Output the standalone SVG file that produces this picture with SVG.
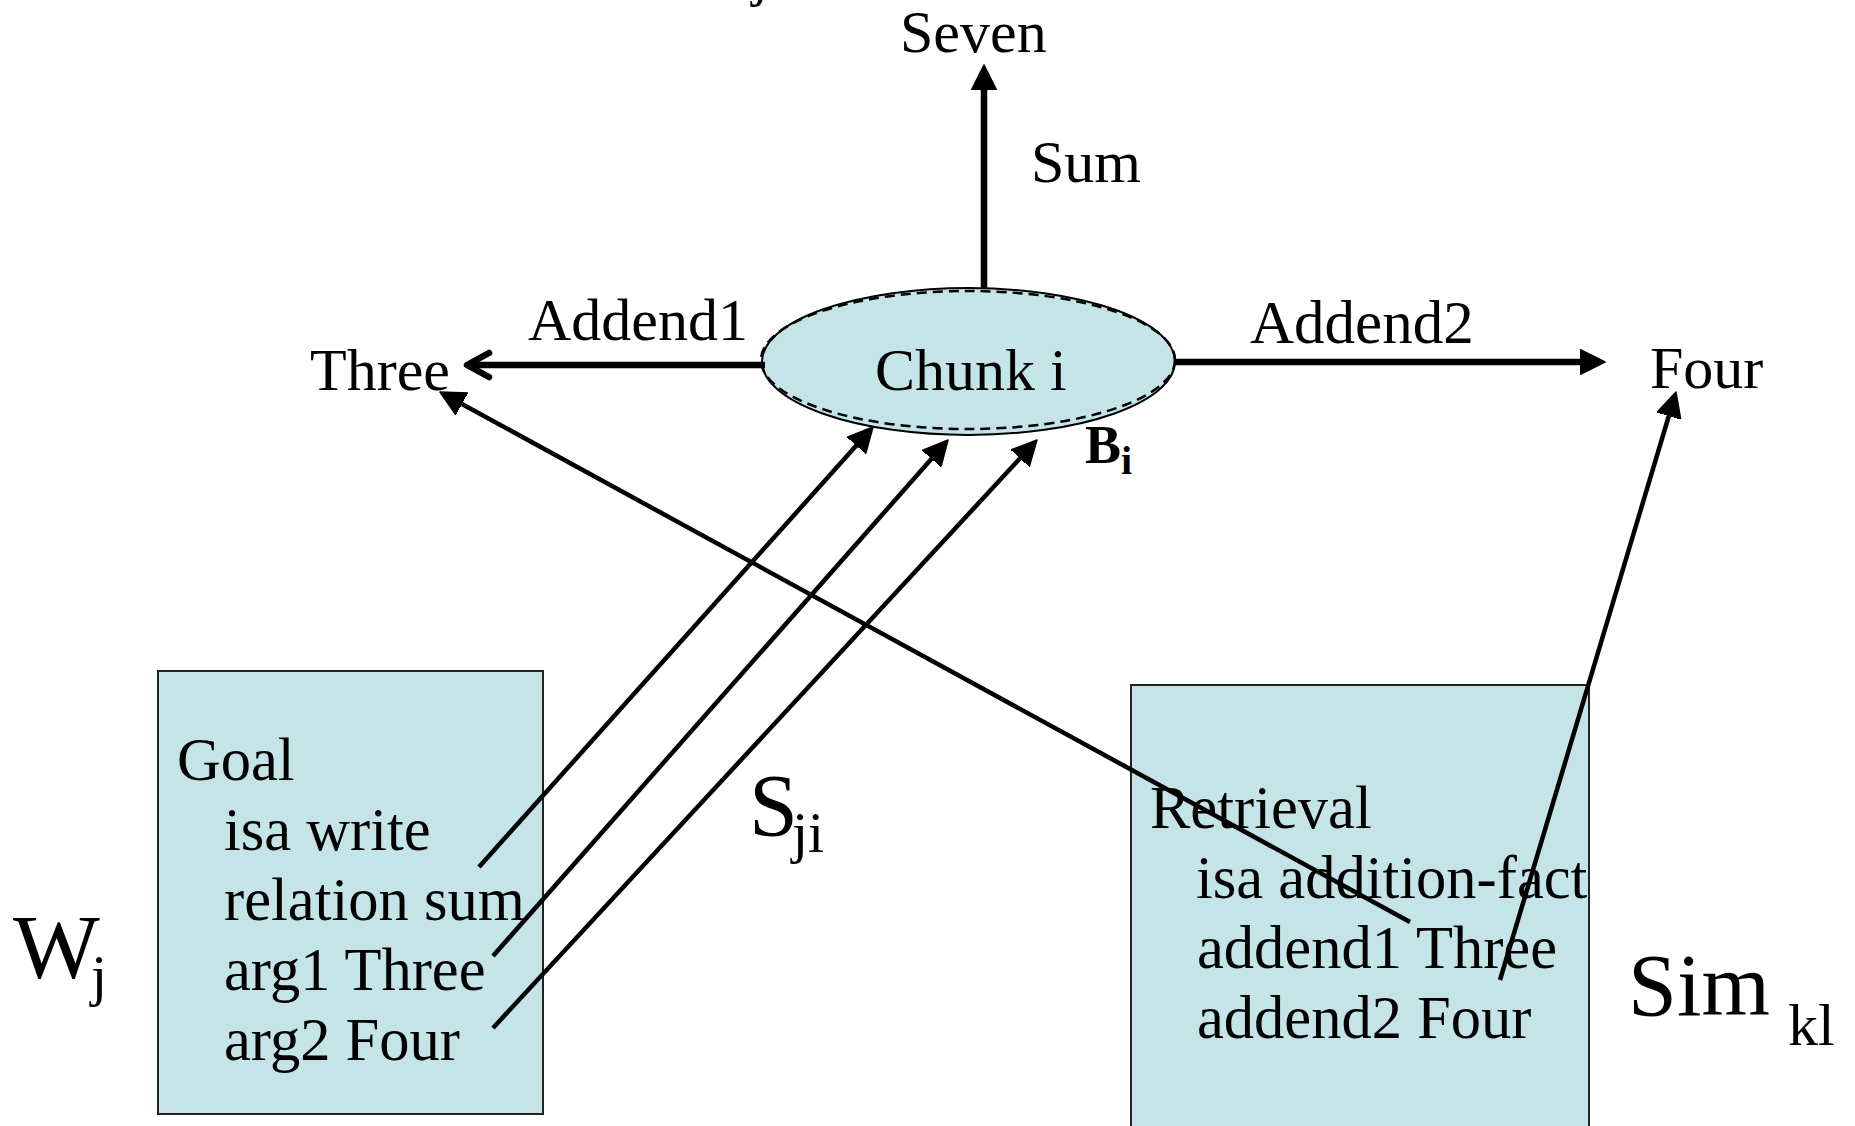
<svg xmlns="http://www.w3.org/2000/svg" width="1855" height="1126" viewBox="0 0 1855 1126">
  <style>
    text { font-family: "Liberation Serif", "Times New Roman", serif; fill: #000; }
    .lbl { font-size: 60px; }
    .item { font-size: 60.5px; }
    .big { font-size: 88px; }
    .sub { font-size: 58px; }
    .panel { fill: #C5E4E8; stroke: #222; stroke-width: 2; }
    .thick { stroke: #000; stroke-width: 6.5; fill: none; }
    .thin { stroke: #000; stroke-width: 4.5; fill: none; }
  </style>
  <defs>
    <marker id="head" viewBox="0 -13 26 26" markerWidth="26" markerHeight="26" refX="0" refY="0" orient="auto" markerUnits="userSpaceOnUse">
      <path d="M0,-12.5 L25,0 L0,12.5 Z" fill="#000" stroke="#000" stroke-width="1.5" stroke-linejoin="round"/>
    </marker>
    <marker id="chevron" viewBox="-28 -18 36 36" markerWidth="36" markerHeight="36" refX="0" refY="0" orient="auto" markerUnits="userSpaceOnUse">
      <path d="M-22,-12 L0,0 L-22,12" fill="none" stroke="#000" stroke-width="6.5" stroke-linecap="round" stroke-linejoin="round"/>
    </marker>
  </defs>

  <rect width="1855" height="1126" fill="#fff"/>

  <!-- chunk node -->
  <g id="chunk">
    <ellipse cx="968.5" cy="361.5" rx="206.5" ry="73.5" fill="#C5E4E8" stroke="#000" stroke-width="2"/>
    <ellipse cx="968" cy="360" rx="207" ry="69" fill="none" stroke="#000" stroke-width="2.5" stroke-dasharray="10 6"/>
    <text class="lbl" x="875" y="390">Chunk i</text>
  </g>

  <g id="seven"><text class="lbl" x="900" y="52">Seven</text></g>
  <g id="three"><text class="lbl" x="310" y="390">Three</text></g>
  <g id="four"><text class="lbl" x="1650" y="388">Four</text></g>

  <!-- goal buffer -->
  <g id="goal">
    <rect class="panel" x="158" y="671" width="385" height="443"/>
    <text class="item" x="177" y="780">Goal</text>
    <text class="item" x="224" y="850">isa write</text>
    <text class="item" x="224" y="920">relation sum</text>
    <text class="item" x="224" y="990">arg1 Three</text>
    <text class="item" x="224" y="1060">arg2 Four</text>
  </g>

  <!-- retrieval buffer -->
  <g id="retrieval">
    <rect class="panel" x="1131" y="685" width="458" height="460"/>
    <text class="item" x="1150" y="828">Retrieval</text>
    <text class="item" x="1196" y="898">isa addition-fact</text>
    <text class="item" x="1197" y="968">addend1 Three</text>
    <text class="item" x="1197" y="1038">addend2 Four</text>
  </g>

  <!-- parameter symbols -->
  <g id="wj">
    <text class="big" x="13" y="978" style="font-size:92px">W</text>
    <text class="sub" x="91" y="995">j</text>
  </g>
  <g id="sji">
    <text class="big" x="749" y="835">S</text>
    <text class="sub" x="792" y="852">ji</text>
  </g>
  <g id="simkl">
    <text class="big" x="1628" y="1015">Sim</text>
    <text class="sub" x="1788" y="1045" style="font-size:60px">kl</text>
  </g>
  <g id="bi">
    <text x="1085" y="463" style="font-size:54px;font-weight:bold">B</text>
    <text x="1121" y="474" style="font-size:40px;font-weight:bold">i</text>
  </g>
  <g id="wj-top"><text class="sub" x="752" y="-5">j</text></g>

  <!-- connectors -->
  <g id="connectors">
    <line class="thick" x1="984" y1="288" x2="984" y2="90" marker-end="url(#head)"/>
    <line class="thick" x1="765" y1="365" x2="467" y2="365" marker-end="url(#chevron)"/>
    <line class="thick" x1="1175" y1="362" x2="1580" y2="362" marker-end="url(#head)"/>
    <line class="thin" x1="479" y1="867" x2="856.3" y2="445.6" marker-end="url(#head)"/>
    <line class="thin" x1="493" y1="956" x2="931.5" y2="458.8" marker-end="url(#head)"/>
    <line class="thin" x1="493" y1="1028" x2="1020" y2="458.4" marker-end="url(#head)"/>
    <line class="thin" x1="1410" y1="922" x2="461.9" y2="404" marker-end="url(#head)"/>
    <line class="thin" x1="1500" y1="980" x2="1668.8" y2="416" marker-end="url(#head)"/>
  </g>

  <!-- edge labels -->
  <g id="edge-labels">
    <text class="lbl" x="1031" y="182">Sum</text>
    <text class="lbl" x="528" y="340">Addend1</text>
    <text class="lbl" x="1250" y="343" style="font-size:61px">Addend2</text>
  </g>
</svg>
